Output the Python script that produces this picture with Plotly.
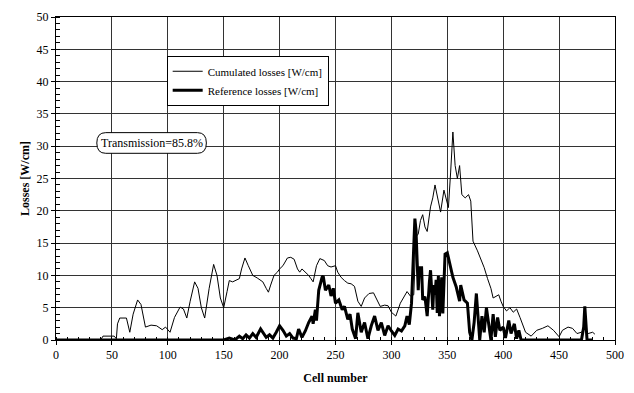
import plotly.graph_objects as go

# ---- data ----
cum_cells = [0, 40, 42, 52, 54, 55, 57, 63, 66, 69, 73, 76, 80, 85, 90, 95, 98, 102, 106, 111,
             114, 117, 120, 124, 127, 130, 133, 137, 141, 144, 147, 150, 153, 155, 158, 161, 164,
             166, 169, 172, 176, 180, 185, 188, 190, 192, 195, 198, 200, 203, 207, 210, 213, 216,
             218, 220, 223, 226, 228, 230, 233, 236, 240, 243, 246, 250, 252, 255, 258, 261, 264,
             267, 270, 273, 276, 280, 284, 287, 290, 294, 297, 300, 304, 308, 311, 314, 317, 320,
             322, 324, 326, 328, 330, 332, 335, 337, 339, 341, 344, 347, 349, 351, 353, 355, 357,
             359, 361, 363, 366, 369, 371, 373, 377, 380, 383, 386, 389, 391, 393, 396, 398, 400,
             403, 406, 409, 412, 415, 418, 420, 425, 430, 435, 440, 445, 450, 453, 458, 462, 466,
             470, 473, 476, 480, 482]
cum_losses = [0, 0, 0.6, 0.6, 0.2, 2.5, 3.4, 3.4, 1.2, 4.0, 6.2, 5.5, 2.0, 2.3, 2.2, 1.6, 2.0, 1.2, 3.5, 5.1,
              4.8, 3.4, 6.0, 9.0, 8.0, 5.0, 3.4, 8.0, 11.7, 10.0, 6.5, 5.0, 7.5, 9.2, 9.0, 9.2, 9.5,
              11.0, 12.7, 11.5, 10.0, 9.6, 9.0, 8.0, 7.4, 8.5, 10.0, 10.5, 11.0, 11.5, 12.7, 12.8, 12.5, 11.0,
              10.5, 11.0, 10.5, 10.0, 9.5, 9.0, 11.5, 12.6, 12.3, 11.5, 11.3, 11.5, 10.5, 9.7, 9.2, 8.8, 8.7,
              8.3, 6.0, 5.2, 6.5, 7.2, 7.3, 6.2, 5.2, 5.4, 5.3, 4.3, 3.7, 5.7, 6.5, 7.5, 6.8, 7.0,
              16.0, 16.4, 18.5, 19.4, 17.5, 16.8, 20.6, 22.0, 24.0, 22.5, 19.8, 23.2, 22.0, 20.5, 26.0, 32.2, 27.0,
              25.0, 27.0, 22.5, 22.0, 22.5, 21.5, 15.3, 13.8, 12.5, 11.2, 9.5, 8.0, 6.5, 6.7, 7.0, 6.0, 5.2,
              4.5, 5.0, 4.3, 4.8, 3.5, 2.0, 1.2, 0.6, 1.5, 1.8, 2.2, 1.5, 0.5, 1.5, 2.0, 1.8, 1.0,
              1.2, 1.8, 1.0, 1.2, 0.9]

ref_cells = [0, 150, 155, 160, 164, 167, 170, 173, 176, 179, 183, 186, 188, 191, 194, 197, 200, 203, 206,
             209, 212, 215, 217, 220, 223, 226, 229, 230, 232, 233, 235, 238, 239, 241, 244, 246, 248, 250,
             253, 256, 258, 261, 263, 265, 268, 270, 273, 276, 279, 282, 285, 288, 291, 294, 297, 300, 303,
             306, 309, 312, 314, 316, 318, 321, 322, 324, 325, 327, 328, 330, 331, 332, 334, 335, 337, 338,
             339, 340, 341, 342, 343, 345, 346, 348, 350, 352, 355, 358, 361, 362, 365, 368, 370, 372, 374,
             376, 378, 379, 381, 383, 385, 387, 389, 391, 393, 395, 397, 400, 402, 405, 407, 410, 412, 414,
             416, 470, 472, 473, 474, 475, 480]
ref_losses = [0, 0, 0.3, 0, 0.6, 0.2, 0.8, 0.3, 1.0, 0.4, 1.7, 1.0, 0.4, 0.8, 0.3, 1.2, 2.2, 1.5, 0.6,
              1.0, 0.3, 0.2, 1.7, 0.4, 1.4, 2.7, 3.7, 2.5, 4.7, 3.0, 7.7, 9.7, 9.9, 7.7, 8.5, 6.8, 8.0, 5.7,
              6.2, 4.7, 5.2, 3.2, 4.0, 1.7, 0.2, 4.2, 1.2, 2.7, 0.2, 2.2, 3.7, 1.5, 2.7, 0.7, 2.2, 1.4, 0.7,
              1.7, 1.4, 2.2, 3.7, 2.4, 5.7, 18.8, 17.0, 7.7, 11.2, 11.2, 6.2, 6.7, 4.7, 3.7, 9.0, 10.8, 4.7, 8.5,
              7.0, 9.3, 4.2, 9.9, 3.7, 9.7, 4.1, 13.3, 13.5, 12.0, 9.7, 8.2, 6.0, 8.5, 6.2, 5.7, 1.2, 0, 2.7,
              7.2, 2.0, 0, 3.7, 1.2, 5.0, 2.0, 0, 4.0, 0.5, 3.5, 1.5, 2.0, 0.3, 3.0, 1.0, 2.5, 0.2, 1.5,
              0, 0, 2.0, 5.2, 2.0, 0, 0]

x_ticks = [0, 50, 100, 150, 200, 250, 300, 350, 400, 450, 500]
y_ticks = [0, 5, 10, 15, 20, 25, 30, 35, 40, 45, 50]

FONT = "Liberation Serif"

fig = go.Figure()
fig.add_trace(go.Scatter(x=cum_cells, y=cum_losses, mode="lines",
                         name="Cumulated losses [W/cm]",
                         line=dict(color="black", width=1)))
fig.add_trace(go.Scatter(x=ref_cells, y=ref_losses, mode="lines",
                         name="Reference losses [W/cm]",
                         line=dict(color="black", width=3)))

axis_common = dict(showline=True, linecolor="black", linewidth=1, mirror=True,
                   showgrid=True, gridcolor="#333", gridwidth=1, zeroline=False,
                   ticks="outside", ticklen=4, tickcolor="black",
                   tickfont=dict(family=FONT, size=12, color="black"))

fig.update_xaxes(range=[0, 500], tickvals=x_ticks,
                 minor=dict(ticks="inside", dtick=10, ticklen=3, tickcolor="black", showgrid=False),
                 title=dict(text="<b>Cell number</b>", font=dict(family=FONT, size=12, color="black"),
                            standoff=12),
                 **axis_common)
fig.update_yaxes(range=[0, 50], tickvals=y_ticks,
                 minor=dict(ticks="inside", dtick=1, ticklen=4, tickcolor="black", showgrid=False),
                 title=dict(text="<b>Losses [W/cm]</b>", font=dict(family=FONT, size=12, color="black"),
                            standoff=4),
                 **axis_common)

# rounded box for the transmission annotation
x0, x1, yb, yt = 36.5, 134.5, 28.9, 32.1
rx, ym = 8.0, (yb + yt) / 2
path = (f"M {x0+rx},{yt} L {x1-rx},{yt} Q {x1},{yt} {x1},{ym} Q {x1},{yb} {x1-rx},{yb} "
        f"L {x0+rx},{yb} Q {x0},{yb} {x0},{ym} Q {x0},{yt} {x0+rx},{yt} Z")
fig.add_shape(type="path", path=path, xref="x", yref="y",
              line=dict(color="black", width=1), fillcolor="white", layer="above")
fig.add_annotation(x=(x0 + x1) / 2, y=ym, xref="x", yref="y", text="Transmission=85.8%",
                   showarrow=False, font=dict(family=FONT, size=12, color="black"))

fig.update_layout(
    width=634, height=393,
    margin=dict(l=56, r=17, t=10, b=52),
    paper_bgcolor="white", plot_bgcolor="white",
    font=dict(family=FONT, size=11, color="black"),
    showlegend=True,
    legend=dict(x=0.198, y=0.88, xanchor="left", yanchor="top",
                bgcolor="white", bordercolor="black", borderwidth=1,
                font=dict(family=FONT, size=11, color="black"),
                itemwidth=30, tracegroupgap=0),
)

fig.write_html("out.html")
